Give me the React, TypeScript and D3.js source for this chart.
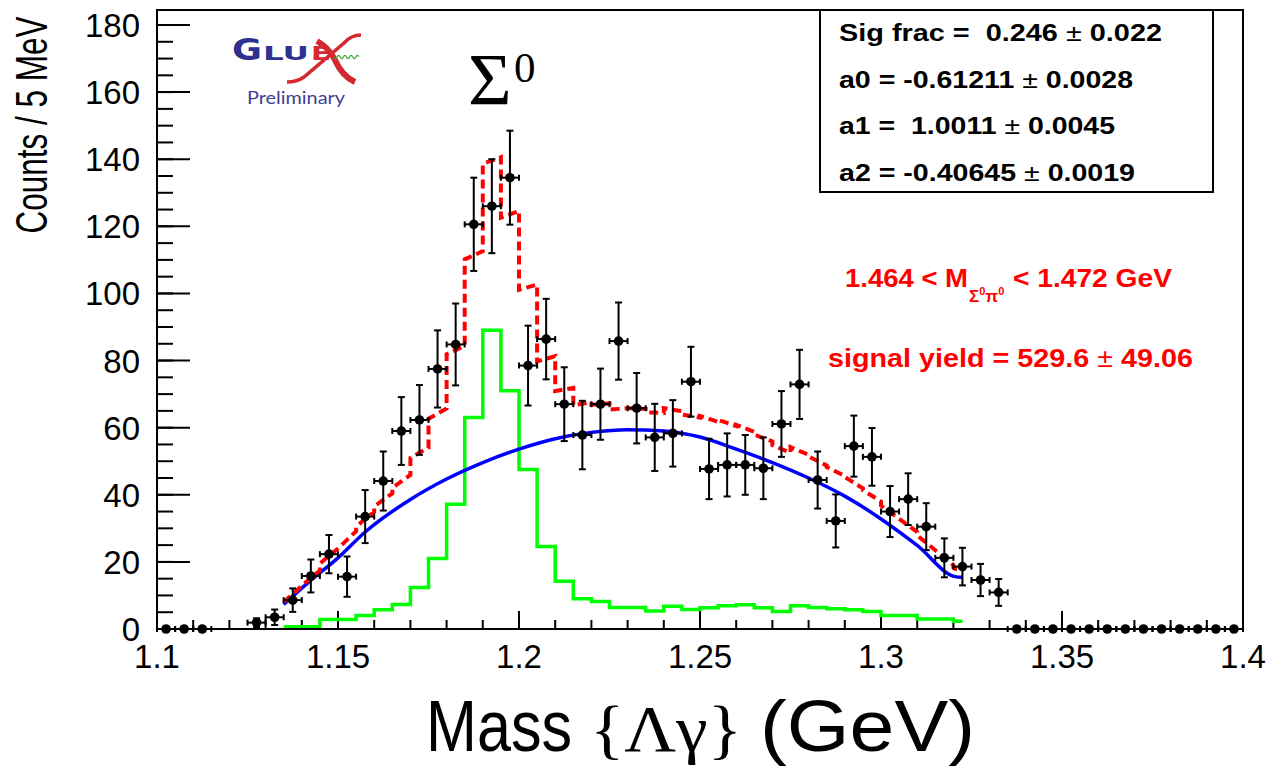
import * as d3 from "d3";

// 60 bins of 5 MeV, 1.1 - 1.4 GeV
const binLow = 1.1;
const binWidth = 0.005;

// data points (null = bin not drawn)
const counts = [
  0, 0, 0, null, null, 1.9, 3.5, 8.6, 15.8, 22.3,
  15.6, 33.5, 44.1, 59.0, 62.3, 77.5, 84.8, 120.6, 126.0, 134.5,
  78.5, 86.4, 67.0, 57.8, 67.0, 85.8, 65.8, 57.1, 58.3, 73.7,
  47.7, 48.9, 48.9, 47.9, 61.1, 72.9, 44.4, 32.2, 54.5, 51.3,
  35.0, 38.7, 30.5, 21.2, 18.6, 14.6, 10.9, 0, 0, 0,
  0, 0, 0, 0, 0, 0, 0, 0, 0, 0,
];
const countErrors = [
  0, 0, 0, 0, 0, 1.3, 2.3, 3.5, 4.9, 5.7,
  6.0, 7.9, 8.8, 10.1, 10.4, 11.5, 12.2, 13.9, 14.0, 14.0,
  11.9, 12.0, 11.0, 10.2, 10.6, 11.5, 10.5, 10.0, 9.9, 10.4,
  9.0, 9.4, 8.9, 9.2, 9.8, 10.3, 8.5, 7.9, 9.1, 8.6,
  7.6, 7.7, 7.0, 5.8, 5.6, 4.8, 4.0, 0, 0, 0,
  0, 0, 0, 0, 0, 0, 0, 0, 0, 0,
];

// signal template (green), fit range 1.135 - 1.3225
const fitStart = 1.135;
const fitEnd = 1.3225;
const signalCounts = [
  0.7, 0.7, 2.8, 2.8, 4.0, 5.7, 7.3, 12.4, 21.0, 37.2,
  63.0, 89.0, 71.0, 47.5, 24.6, 14.2, 9.0, 8.2, 6.4, 6.4,
  5.4, 6.8, 5.8, 6.3, 6.9, 7.2, 6.3, 5.2, 6.9, 6.4,
  6.0, 5.7, 5.2, 4.0, 4.0, 3.0, 3.0, 2.3,
];

// background polynomial (blue)
const bkgMass = [
  1.135, 1.1415, 1.15, 1.1575, 1.17, 1.18, 1.19, 1.2, 1.21, 1.22, 1.23,
  1.24, 1.25, 1.26, 1.27, 1.28, 1.29, 1.3, 1.31, 1.3205, 1.3225,
];
const bkgValues = [
  7.3, 13.6, 21.2, 28.9, 38.6, 44.7, 49.6, 53.6, 56.7, 58.6, 59.4,
  59.0, 57.2, 53.6, 49.6, 45.0, 39.6, 32.8, 24.9, 15.6, 15.4,
];

const xTickLabels = ["1.1", "1.15", "1.2", "1.25", "1.3", "1.35", "1.4"];
const yTickLabels = ["0", "20", "40", "60", "80", "100", "120", "140", "160", "180"];

const statLines = [
  { name: "Sig frac =  0.246", err: "0.022", len: 323 },
  { name: "a0 = -0.61211", err: "0.0028", len: 294 },
  { name: "a1 =  1.0011", err: "0.0045", len: 276 },
  { name: "a2 = -0.40645", err: "0.0019", len: 296 },
];

const sans = "'Liberation Sans', Arial, Helvetica, sans-serif";
const serif = "'Liberation Serif', 'Times New Roman', serif";

export default function App() {
  const W = 1271, H = 767;
  const left = 157, right = 1243, top = 10, bottom = 629;

  const x = d3.scaleLinear().domain([1.1, 1.4]).range([left, right]);
  const y = d3.scaleLinear().domain([0, 184.47]).range([bottom, top]);

  const points = counts
    .map((c, i) => ({ m: binLow + binWidth * (i + 0.5), c, e: countErrors[i] }))
    .filter((d) => d.c !== null) as { m: number; c: number; e: number }[];

  const bkgAt = d3.scaleLinear().domain(bkgMass).range(bkgValues);

  // green step histogram
  const greenPts: [number, number][] = signalCounts.map((v, i) => [fitStart + binWidth * i, v]);
  greenPts.push([fitEnd, signalCounts[signalCounts.length - 1]]);
  const stepLine = d3
    .line<[number, number]>()
    .x((d) => x(d[0]))
    .y((d) => y(d[1]))
    .curve(d3.curveStepAfter);

  // total fit = background + signal
  const totalPts: [number, number][] = [];
  signalCounts.forEach((v, i) => {
    const lo = fitStart + binWidth * i;
    const hi = Math.min(lo + binWidth, fitEnd);
    for (let k = 0; k <= 4; k++) {
      const m = lo + ((hi - lo) * k) / 4;
      totalPts.push([m, bkgAt(m) + v]);
    }
  });
  const plainLine = d3
    .line<[number, number]>()
    .x((d) => x(d[0]))
    .y((d) => y(d[1]));

  const bkgPts: [number, number][] = bkgMass.map((m, i) => [m, bkgValues[i]]);
  const smoothLine = d3
    .line<[number, number]>()
    .x((d) => x(d[0]))
    .y((d) => y(d[1]))
    .curve(d3.curveMonotoneX);

  const xMajor = xTickLabels.map(Number);
  const xMinor = d3.range(0, 31).map((i) => 1.1 + i * 0.01);
  const yMajor = yTickLabels.map(Number);
  const yMinor = d3.range(0, 37).map((i) => i * 5);

  // small wave in the logo
  const wave = d3
    .line<number>()
    .x((t) => 334 + t * 25)
    .y((t) => 57 + 1.8 * Math.sin(t * Math.PI * 8))
    .curve(d3.curveBasis)(d3.range(0, 1.001, 0.03));

  return (
    <svg
      width={W}
      height={H}
      style={{ position: "absolute", left: 0, top: 0, background: "#fff" }}
    >
      <rect x={0} y={0} width={W} height={H} fill="#fff" />

      {/* ticks */}
      <g stroke="#000" strokeWidth={2}>
        {xMinor.map((t, i) => (
          <line key={"xm" + i} x1={x(t)} x2={x(t)} y1={bottom} y2={bottom - 9} />
        ))}
        {xMajor.map((t, i) => (
          <line key={"xM" + i} x1={x(t)} x2={x(t)} y1={bottom} y2={bottom - 18} />
        ))}
        {yMinor.map((t, i) => (
          <line key={"ym" + i} x1={left} x2={left + 16} y1={y(t)} y2={y(t)} />
        ))}
        {yMajor.map((t, i) => (
          <line key={"yM" + i} x1={left} x2={left + 33} y1={y(t)} y2={y(t)} />
        ))}
      </g>

      {/* signal */}
      <path d={stepLine(greenPts) || ""} fill="none" stroke="#00ff00" strokeWidth={3.5} />
      {/* background */}
      <path d={smoothLine(bkgPts) || ""} fill="none" stroke="#0000ff" strokeWidth={3.5} />
      {/* total */}
      <path
        d={plainLine(totalPts) || ""}
        fill="none"
        stroke="#ff0000"
        strokeWidth={4}
        strokeDasharray="9 5"
      />

      {/* data points */}
      <g stroke="#000" strokeWidth={2}>
        {points.map((d, i) => {
          const cx = x(d.m);
          const cy = y(d.c);
          const x0 = x(d.m - binWidth / 2);
          const x1 = x(d.m + binWidth / 2);
          return (
            <g key={"p" + i}>
              <line x1={x0} x2={x1} y1={cy} y2={cy} />
              <line x1={x0} x2={x0} y1={cy - 3} y2={cy + 3} />
              <line x1={x1} x2={x1} y1={cy - 3} y2={cy + 3} />
              {d.e > 0 && (
                <>
                  <line x1={cx} x2={cx} y1={y(d.c + d.e)} y2={y(d.c - d.e)} />
                  <line x1={cx - 3.5} x2={cx + 3.5} y1={y(d.c + d.e)} y2={y(d.c + d.e)} />
                  <line x1={cx - 3.5} x2={cx + 3.5} y1={y(d.c - d.e)} y2={y(d.c - d.e)} />
                </>
              )}
              <circle cx={cx} cy={cy} r={4.8} fill="#000" stroke="none" />
            </g>
          );
        })}
      </g>

      {/* frame */}
      <rect
        x={left}
        y={top}
        width={right - left}
        height={bottom - top}
        fill="none"
        stroke="#000"
        strokeWidth={2}
      />

      {/* tick labels */}
      <g fontFamily={sans} fontSize={33} fill="#000">
        {xMajor.map((t, i) => (
          <text key={"xl" + i} x={x(t)} y={668} textAnchor="middle">
            {xTickLabels[i]}
          </text>
        ))}
        {yMajor.map((t, i) => (
          <text key={"yl" + i} x={140} y={y(t) + 12} textAnchor="end">
            {yTickLabels[i]}
          </text>
        ))}
      </g>

      {/* axis titles */}
      <text
        transform="translate(47,125) rotate(-90) scale(1,1.42)"
        textAnchor="middle"
        fontFamily={sans}
        fontSize={31.5}
      >
        Counts / 5 MeV
      </text>
      <text x={426} y={751} fontFamily={sans} fontSize={72} textLength={146} lengthAdjust="spacingAndGlyphs">
        Mass
      </text>
      <text x={590} y={751} fontFamily={serif} fontSize={66} textLength={152} lengthAdjust="spacingAndGlyphs">
        {"{\u039B\u03B3}"}
      </text>
      <text x={760} y={751} fontFamily={sans} fontSize={72} textLength={215} lengthAdjust="spacingAndGlyphs">
        (GeV)
      </text>

      {/* Sigma0 label */}
      <text x={468} y={105} fontFamily={serif} fontSize={75}>
        {"\u03A3"}
      </text>
      <text x={514} y={82} fontFamily={serif} fontSize={43}>
        0
      </text>

      {/* GlueX logo */}
      <g fontFamily="'DejaVu Sans', sans-serif" fontWeight="bold">
        <text x={232} y={60} fontSize={30} fill="#2e3192" textLength={30} lengthAdjust="spacingAndGlyphs">
          G
        </text>
        <text x={263} y={60} fontSize={19} fill="#2e3192" textLength={46} lengthAdjust="spacingAndGlyphs">
          LU
        </text>
        <text x={311} y={60} fontSize={19} fill="#d42a2f" textLength={20} lengthAdjust="spacingAndGlyphs">
          E
        </text>
      </g>
      <path d="M 317 41 Q 329 48 335 60 Q 342 76 355 82" fill="none" stroke="#d42a2f" strokeWidth={6} />
      <path d="M 361 35 Q 351 35 344 43 L 304 77 Q 297 82 287 82" fill="none" stroke="#d42a2f" strokeWidth={3.5} />
      <path d={wave || ""} fill="none" stroke="#3aa935" strokeWidth={1.2} />
      <text x={247} y={104} fontFamily="Lato, sans-serif" fontSize={17} fill="#3d4095" textLength={98} lengthAdjust="spacingAndGlyphs">
        Preliminary
      </text>

      {/* stats box */}
      <rect x={820} y={10} width={393} height={182} fill="#fff" stroke="#000" strokeWidth={2} />
      <g fontFamily={sans} fontSize={23.5} fontWeight="bold" fill="#000">
        {statLines.map((s, i) => (
          <text key={"s" + i} x={839} y={41 + i * 46.5} textLength={s.len} lengthAdjust="spacingAndGlyphs" xmlSpace="preserve">
            {s.name + " "}
            <tspan fontWeight="normal">{"\u00B1"}</tspan>
            {" " + s.err}
          </text>
        ))}
      </g>

      {/* fit info */}
      <g fontFamily={sans} fontWeight="bold" fill="#ff0000">
        <text x={845} y={287} fontSize={26} textLength={123} lengthAdjust="spacingAndGlyphs" xmlSpace="preserve">
          1.464 &lt; M
        </text>
        <text x={969} y={302} fontSize={17}>
          {"\u03A3"}
          <tspan fontSize={11} dy={-7}>0</tspan>
          <tspan dy={7}>{"\u03C0"}</tspan>
          <tspan fontSize={11} dy={-7}>0</tspan>
        </text>
        <text x={1013} y={287} fontSize={26} textLength={159} lengthAdjust="spacingAndGlyphs" xmlSpace="preserve">
          &lt; 1.472 GeV
        </text>
        <text x={828} y={367} fontSize={26} textLength={365} lengthAdjust="spacingAndGlyphs" xmlSpace="preserve">
          {"signal yield = 529.6 "}
          <tspan fontWeight="normal">{"\u00B1"}</tspan>
          {" 49.06"}
        </text>
      </g>
    </svg>
  );
}
